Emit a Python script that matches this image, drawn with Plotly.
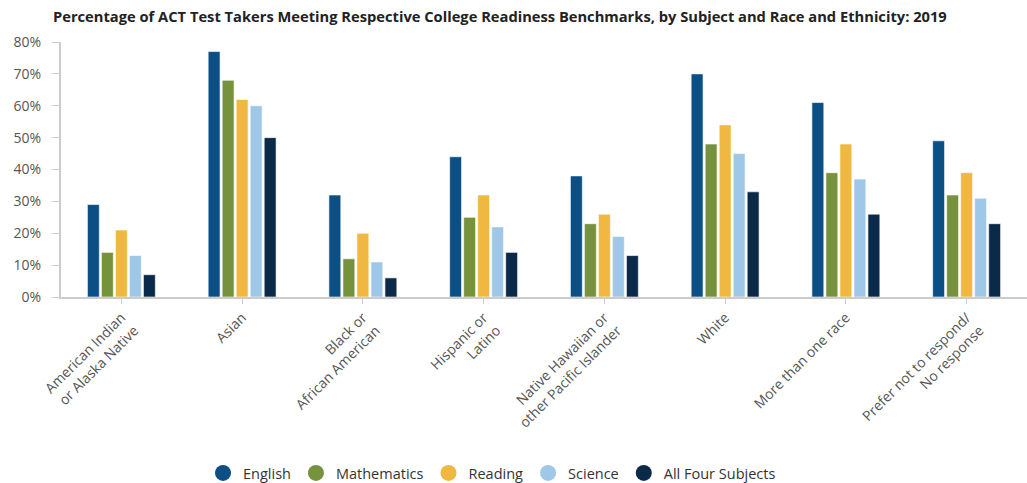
import plotly.graph_objects as go

categories = [
    "American Indian<br>or Alaska Native",
    "Asian",
    "Black or<br>African American",
    "Hispanic or<br>Latino",
    "Native Hawaiian or<br>other Pacific Islander",
    "White",
    "More than one race",
    "Prefer not to respond/<br>No response",
]
english = [29, 77, 32, 44, 38, 70, 61, 49]
mathematics = [14, 68, 12, 25, 23, 48, 39, 32]
reading = [21, 62, 20, 32, 26, 54, 48, 39]
science = [13, 60, 11, 22, 19, 45, 37, 31]
all_four = [7, 50, 6, 14, 13, 33, 26, 23]

series = [
    ("English", english, "#0B4F84"),
    ("Mathematics", mathematics, "#77923D"),
    ("Reading", reading, "#F0B840"),
    ("Science", science, "#9FC8E8"),
    ("All Four Subjects", all_four, "#0B2A4A"),
]

y_ticks = [0, 10, 20, 30, 40, 50, 60, 70, 80]

fig = go.Figure()
for name, vals, color in series:
    fig.add_trace(go.Bar(
        x=categories, y=vals, name=name, showlegend=False,
        marker=dict(color=color, line=dict(color="rgba(255,255,255,0.6)", width=1)),
    ))
for name, vals, color in series:
    fig.add_trace(go.Scatter(
        x=[None], y=[None], mode="markers", name=name,
        marker=dict(symbol="circle", size=19, color=color),
    ))

fig.update_layout(
    width=1027, height=483,
    margin=dict(l=61, r=0, t=42, b=186, autoexpand=False),
    paper_bgcolor="white", plot_bgcolor="white",
    font=dict(family="Open Sans", color="#555555", size=13),
    barmode="group", bargap=0.42, bargroupgap=0.15,
    title=dict(
        text="<b>Percentage of ACT Test Takers Meeting Respective College Readiness Benchmarks, by Subject and Race and Ethnicity: 2019</b>",
        x=53/1027, xanchor="left", xref="container", y=1 - 17/483, yanchor="middle",
        yref="container",
        font=dict(family="Open Sans", size=14.7, color="#222222"),
    ),
    showlegend=True,
    legend=dict(
        orientation="h", x=492/1027, xanchor="center", xref="container",
        y=1 - 473/483, yanchor="middle", yref="container",
        font=dict(size=14.5, color="#333333"), itemsizing="trace",
        tracegroupgap=0,
    ),
)
fig.update_xaxes(
    tickangle=-45, showline=True, linecolor="#cccccc", linewidth=2,
    ticks="outside", ticklen=5, tickcolor="#cccccc", showgrid=False,
    tickfont=dict(size=14, color="#555555"), automargin=False,
)
fig.update_yaxes(
    range=[0, 80], tickvals=y_ticks, ticktext=[f"{v}%" for v in y_ticks],
    showline=True, linecolor="#cccccc", linewidth=2,
    ticks="outside", ticklen=7, tickcolor="#cccccc", showgrid=False,
    tickfont=dict(size=14, color="#555555"), zeroline=False,
    ticklabelstandoff=8, automargin=False,
)

fig.write_html("out.html")
